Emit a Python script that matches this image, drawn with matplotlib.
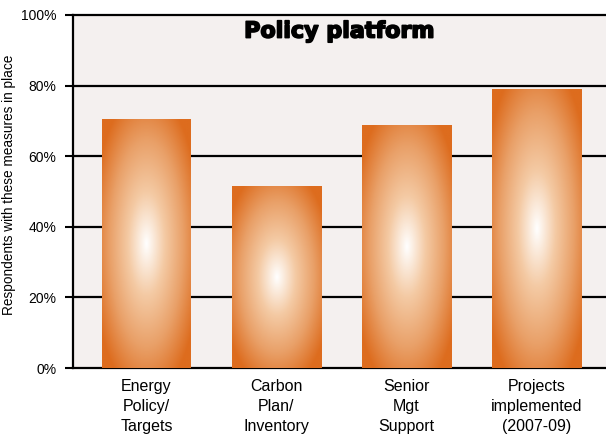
import numpy as np
import matplotlib
matplotlib.use("Agg")
import matplotlib.pyplot as plt
import matplotlib.patheffects as pe
from matplotlib.colors import LinearSegmentedColormap

categories = ["Energy\nPolicy/\nTargets", "Carbon\nPlan/\nInventory", "Senior\nMgt\nSupport",
              "Projects\nimplemented\n(2007-09)"]
values = [70.5, 51.3, 68.8, 78.8]
y_ticks = [0, 20, 40, 60, 80, 100]
y_labels = ["0%", "20%", "40%", "60%", "80%", "100%"]

bg = "#f4f0ef"
font = ["Liberation Sans", "DejaVu Sans"]
cmap = LinearSegmentedColormap.from_list(
    "glow", ["#ffffff", "#f4caa4", "#e9a068", "#dd6c1e"])

fig = plt.figure(figsize=(6.06, 4.37), dpi=100)
fig.patch.set_facecolor("white")
ax = fig.add_axes([73 / 606, 1 - 368 / 437, 533 / 606, 353 / 437])
ax.set_facecolor(bg)

width = 89 / 130

# radial glow inside each bar
nx, ny = 120, 240
gx = np.linspace(-1, 1, nx)
gy = np.linspace(-1, 1, ny)
X, Y = np.meshgrid(gx, gy)
R = np.clip(np.sqrt(X ** 2 + Y ** 2) / 1.25, 0, 1)
for i, v in enumerate(values):
    ax.imshow(R, cmap=cmap, vmin=0, vmax=1, aspect="auto", interpolation="bilinear",
              extent=[i - width / 2, i + width / 2, 0, v], zorder=3)

ax.set_xlim(-0.565, 3.535)
ax.set_ylim(0, 100)

for t in y_ticks[1:-1]:
    ax.axhline(t, color="black", lw=1.6, zorder=1)

ax.set_yticks(y_ticks)
ax.set_yticklabels(y_labels, fontsize=10, family=font)
ax.set_xticks(range(len(categories)))
ax.set_xticklabels(categories, fontsize=11.5, family=font, linespacing=1.4)
ax.tick_params(axis="x", length=0, pad=8)
ax.tick_params(axis="y", length=6, width=1.5, pad=6)

for s in ["left", "bottom", "top"]:
    ax.spines[s].set_linewidth(1.6)
ax.spines["right"].set_visible(False)

ax.set_ylabel("Respondents with these measures in place", fontsize=9.8, family=font)
ax.yaxis.set_label_coords(-0.107, 0.518)
ax.text(0.5, 0.953, "Policy platform", transform=ax.transAxes, ha="center", va="center",
        fontsize=16, fontweight="bold", family=["DejaVu Sans"], zorder=5,
        path_effects=[pe.withStroke(linewidth=1.2, foreground="black")])

fig.savefig("out.png", dpi=100)
